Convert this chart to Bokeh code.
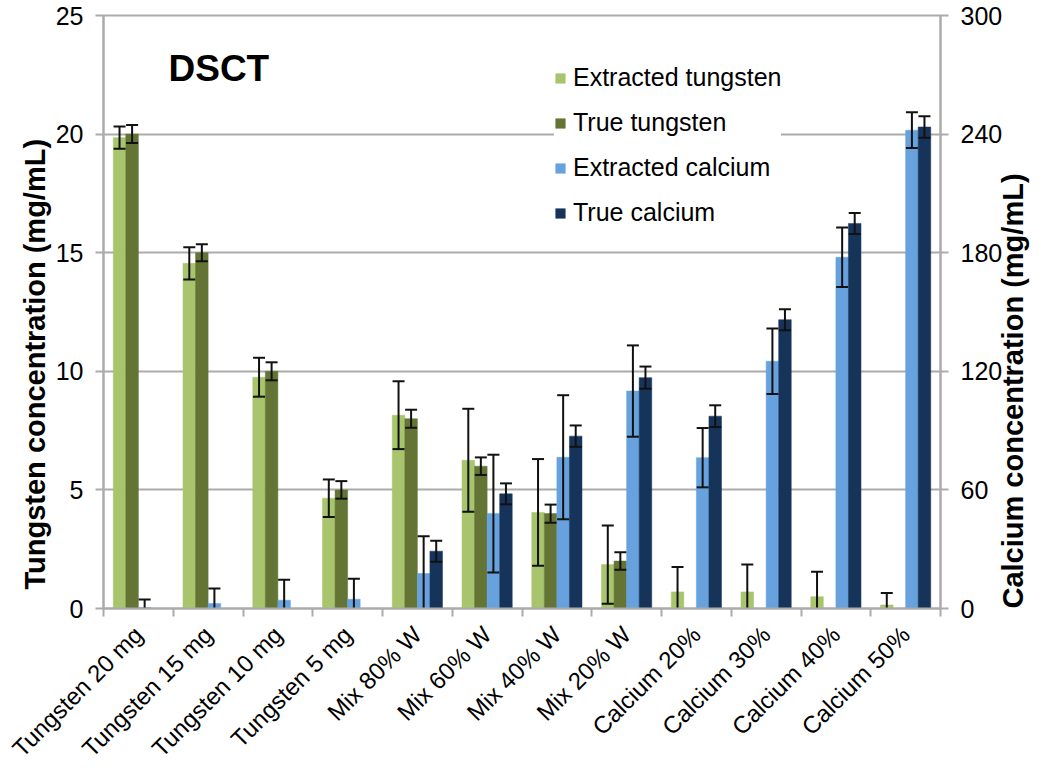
import numpy as np
from bokeh.plotting import figure
from bokeh.models import Range1d, LinearAxis, FixedTicker, Legend, LegendItem, Label, Title
from bokeh.embed import file_html
from bokeh.resources import INLINE

# ---------------- data ----------------
categories = ["Tungsten 20 mg", "Tungsten 15 mg", "Tungsten 10 mg", "Tungsten 5 mg",
              "Mix 80% W", "Mix 60% W", "Mix 40% W", "Mix 20% W",
              "Calcium 20%", "Calcium 30%", "Calcium 40%", "Calcium 50%"]

extracted_tungsten = [19.85, 14.55, 9.75, 4.65, 8.15, 6.25, 4.05, 1.85, 0.7, 0.7, 0.5, 0.15]
extracted_tungsten_err = [0.47, 0.68, 0.82, 0.79, 1.43, 2.17, 2.25, 1.65, 1.05, 1.15, 1.05, 0.5]
true_tungsten = [20, 15, 10, 5, 8, 6, 4, 2, 0, 0, 0, 0]
true_tungsten_err = [0.38, 0.36, 0.38, 0.37, 0.38, 0.37, 0.38, 0.37, 0, 0, 0, 0]
extracted_calcium = [0.5, 2.5, 4.2, 4.7, 17.7, 48.0, 76.5, 110.0, 76.3, 125.1, 177.7, 242.0]
extracted_calcium_err = [4.0, 7.6, 10.4, 10.4, 18.8, 29.8, 31.4, 23.1, 15.0, 16.6, 15.0, 9.0]
true_calcium = [0, 0, 0, 0, 29.0, 58.0, 87.2, 116.8, 97.3, 146.1, 194.8, 243.6]
true_calcium_err = [0, 0, 0, 0, 5.3, 5.3, 5.4, 5.6, 5.5, 5.3, 5.3, 5.4]

w_ticks = [0, 5, 10, 15, 20, 25]
ca_ticks = [0, 60, 120, 180, 240, 300]
left_title = "Tungsten concentration (mg/mL)"
right_title = "Calcium concentration (mg/mL)"

# ---------------- style ----------------
FONT = "Liberation Sans"
GRID = "#ababab"
C_EW = "#a8c46c"
C_TW = "#637435"
C_EC = "#67a2de"
C_TC = "#16345a"

n = len(categories)
centers = np.arange(n) + 0.5

p = figure(width=1050, height=774, output_backend="svg", toolbar_location=None,
           x_range=Range1d(0, n), y_range=Range1d(0, 25),
           min_border_left=103, min_border_right=110, min_border_top=15, min_border_bottom=165)
p.extra_y_ranges = {"ca": Range1d(0, 300)}
p.background_fill_color = "white"
p.border_fill_color = "white"
p.outline_line_color = GRID
p.outline_line_width = 2

# x axis
xa = p.xaxis[0]
xa.ticker = FixedTicker(ticks=list(centers), minor_ticks=list(range(n + 1)))
xa.major_label_overrides = {float(c): lab for c, lab in zip(centers, categories)}
xa.major_label_orientation = np.pi / 4
xa.major_tick_out = 0
xa.major_tick_in = 0
xa.minor_tick_out = 8
xa.minor_tick_in = 0
xa.minor_tick_line_color = GRID
xa.minor_tick_line_width = 2
xa.axis_line_color = GRID
xa.axis_line_width = 2
xa.major_label_text_font = FONT
xa.major_label_text_font_size = "24px"
xa.major_label_text_color = "black"
xa.major_label_standoff = 14

def style_y(ax):
    ax.major_label_text_font = FONT
    ax.major_label_text_font_size = "25px"
    ax.major_label_text_color = "black"
    ax.major_label_standoff = 12
    ax.major_tick_out = 8
    ax.major_tick_in = 0
    ax.minor_tick_out = 0
    ax.minor_tick_in = 0
    ax.major_tick_line_color = GRID
    ax.major_tick_line_width = 2
    ax.axis_line_color = GRID
    ax.axis_line_width = 2

ya = p.yaxis[0]
ya.ticker = FixedTicker(ticks=w_ticks)
style_y(ya)

# left title: a side-panel Title (reads bottom-to-top), started near the bottom
lt = Title(text=left_title, align="left", offset=19, standoff=4,
           text_font=FONT, text_font_size="29px", text_font_style="bold", text_color="black")
p.add_layout(lt, "left")

ra = LinearAxis(y_range_name="ca", ticker=FixedTicker(ticks=ca_ticks))
style_y(ra)
ra.axis_label = right_title
ra.axis_label_text_font = FONT
ra.axis_label_text_font_size = "29px"
ra.axis_label_text_font_style = "bold"
ra.axis_label_text_color = "black"
ra.axis_label_standoff = 8
_props = ra.properties()
if "axis_label_orientation" in _props:
    ra.axis_label_orientation = np.pi / 2
if "axis_label_align" in _props:
    ra.axis_label_align = "start"
p.add_layout(ra, "right")

p.xgrid.visible = False
p.ygrid.ticker = FixedTicker(ticks=w_ticks)
p.ygrid.grid_line_color = GRID
p.ygrid.grid_line_width = 2

# bars
bw = 0.18
offs = [-0.27, -0.09, 0.09, 0.27]
series = [
    ("Extracted tungsten", extracted_tungsten, extracted_tungsten_err, C_EW, "default"),
    ("True tungsten", true_tungsten, true_tungsten_err, C_TW, "default"),
    ("Extracted calcium", extracted_calcium, extracted_calcium_err, C_EC, "ca"),
    ("True calcium", true_calcium, true_calcium_err, C_TC, "ca"),
]
items = []
for (name, vals, errs, col, rng), off in zip(series, offs):
    r = p.vbar(x=centers + off, width=bw, top=vals, bottom=0, fill_color=col,
               line_color=col, line_width=0.5, y_range_name=rng)
    items.append(LegendItem(label=name, renderers=[r]))

# error bars
for (name, vals, errs, col, rng), off in zip(series, offs):
    v = np.array(vals, float)
    e = np.array(errs, float)
    m = e > 0
    x = (centers + off)[m]
    lo = (v - e)[m]
    hi = (v + e)[m]
    p.segment(x0=x, y0=lo, x1=x, y1=hi, line_color="#111111", line_width=2, y_range_name=rng)
    p.scatter(x=x, y=hi, marker="dash", size=12, line_color="#111111", line_width=2, y_range_name=rng)
    p.scatter(x=x, y=lo, marker="dash", size=12, line_color="#111111", line_width=2, y_range_name=rng)

legend = Legend(items=items, location=(451, 381))
legend.label_text_font = FONT
legend.label_text_font_size = "25px"
legend.label_text_color = "black"
legend.glyph_width = 12
legend.glyph_height = 12
legend.label_standoff = 7
legend.spacing = 16
legend.padding = 10
legend.border_line_color = None
legend.background_fill_color = "white"
legend.background_fill_alpha = 1.0
p.add_layout(legend)

title = Label(x=65, y=540, x_units="screen", y_units="screen", text="DSCT",
              text_font=FONT, text_font_size="37px", text_font_style="bold",
              text_color="black", text_baseline="alphabetic")
p.add_layout(title)

open("out.html", "w").write(file_html(p, INLINE))
